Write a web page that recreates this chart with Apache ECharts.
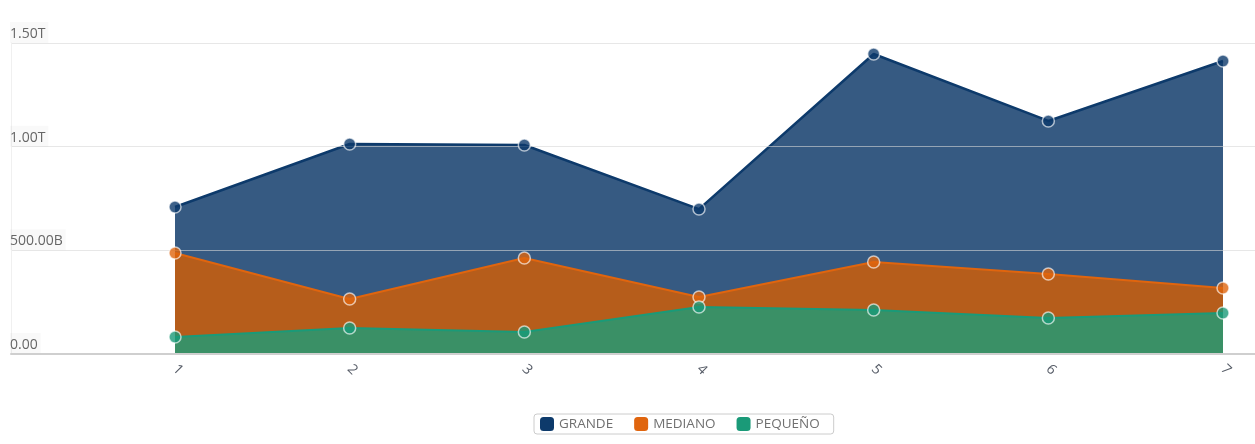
<!DOCTYPE html>
<html>
<head>
<meta charset="utf-8">
<script src="https://cdn.jsdelivr.net/npm/echarts@6/dist/echarts.min.js"></script>
<style>
  html, body { margin: 0; padding: 0; background: #fff; }
  #chart { width: 1255px; height: 444px; }
</style>
</head>
<body>
<div id="chart"></div>
<script>
// Periods on the horizontal axis
const categories = ['1', '2', '3', '4', '5', '6', '7'];

// Values per company size (absolute units)
const grande  = [0.709e12, 1.013e12, 1.008e12, 0.699e12, 1.447e12, 1.124e12, 1.413e12];
const mediano = [0.487e12, 0.265e12, 0.463e12, 0.275e12, 0.444e12, 0.386e12, 0.318e12];
const pequeno = [0.082e12, 0.125e12, 0.106e12, 0.227e12, 0.212e12, 0.174e12, 0.198e12];

const seriesNames = ['GRANDE', 'MEDIANO', 'PEQUEÑO'];
const lineColors = ['#0d3a6b', '#e0650e', '#1a9a78'];
const fillColors = ['#365a82', '#b65d1b', '#3a9066'];

const Y_MIN = 0, Y_MAX = 1.5e12, Y_STEP = 0.5e12;

function fmtValue(v) {
  if (v === 0) return '0.00';
  if (Math.abs(v) >= 1e12) return (v / 1e12).toFixed(2) + 'T';
  if (Math.abs(v) >= 1e9) return (v / 1e9).toFixed(2) + 'B';
  if (Math.abs(v) >= 1e6) return (v / 1e6).toFixed(2) + 'M';
  return v.toFixed(2);
}

const datasets = [grande, mediano, pequeno];

const areaSeries = datasets.map((d, i) => ({
  name: seriesNames[i],
  type: 'line',
  xAxisIndex: 1,
  yAxisIndex: 1,
  data: d,
  z: 2,
  showSymbol: false,
  lineStyle: { color: lineColors[i], width: i === 0 ? 2.5 : 2 },
  itemStyle: { color: lineColors[i] },
  areaStyle: { color: fillColors[i], opacity: 1 },
  emphasis: { disabled: true }
}));

const markerSeries = datasets.map((d, i) => ({
  name: seriesNames[i],
  type: 'scatter',
  xAxisIndex: 1,
  yAxisIndex: 1,
  data: d,
  z: 6,
  symbol: 'circle',
  symbolSize: 12,
  itemStyle: {
    color: lineColors[i],
    borderColor: 'rgba(255,255,255,0.8)',
    borderWidth: 1.5
  },
  emphasis: { disabled: true }
}));

const chart = echarts.init(document.getElementById('chart'), null, { renderer: 'canvas' });

chart.setOption({
  animation: false,
  backgroundColor: '#ffffff',
  textStyle: { fontFamily: '"Open Sans", sans-serif' },
  grid: [
    { left: 11, right: 0, top: 43, bottom: 90 },
    { left: 175, right: 32, top: 43, bottom: 90 }
  ],
  xAxis: [
    {
      gridIndex: 0,
      type: 'value',
      min: 0,
      max: 1,
      axisLabel: { show: false },
      axisTick: { show: false },
      splitLine: { show: false },
      axisLine: { show: true, lineStyle: { color: '#cfcfcf', width: 2 } },
      z: 5
    },
    {
      gridIndex: 1,
      type: 'category',
      data: categories,
      boundaryGap: false,
      axisLine: { show: false },
      axisTick: { show: false },
      axisLabel: {
        rotate: -45,
        margin: 13,
        color: '#555b66',
        fontSize: 14,
        fontFamily: '"Open Sans", sans-serif'
      }
    }
  ],
  yAxis: [
    {
      gridIndex: 0,
      type: 'value',
      min: Y_MIN,
      max: Y_MAX,
      interval: Y_STEP,
      z: 4,
      axisLine: { show: true, lineStyle: { color: '#f0f0f0', width: 1 } },
      axisTick: { show: false },
      splitLine: { show: true, lineStyle: { color: 'rgba(215,215,215,0.6)', width: 1 } },
      axisLabel: {
        inside: true,
        margin: -1,
        verticalAlign: 'bottom',
        color: '#666666',
        fontSize: 14,
        fontFamily: '"Open Sans", sans-serif',
        backgroundColor: 'rgba(0,0,0,0.025)',
        padding: [5, 3, 2, 0],
        formatter: fmtValue
      }
    },
    {
      gridIndex: 1,
      type: 'value',
      min: Y_MIN,
      max: Y_MAX,
      interval: Y_STEP,
      show: false,
      splitLine: { show: false }
    }
  ],
  legend: {
    data: seriesNames.map((n, i) => ({ name: n, itemStyle: { color: lineColors[i] } })),
    left: 534,
    top: 414,
    orient: 'horizontal',
    icon: 'roundRect',
    itemWidth: 14,
    itemHeight: 14,
    itemGap: 21,
    padding: [3, 14, 3, 6],
    borderColor: '#cccccc',
    borderWidth: 1,
    borderRadius: 3,
    textStyle: { color: '#707070', fontSize: 13.5, fontFamily: '"Open Sans", sans-serif' }
  },
  series: areaSeries.concat(markerSeries)
});
</script>
</body>
</html>
